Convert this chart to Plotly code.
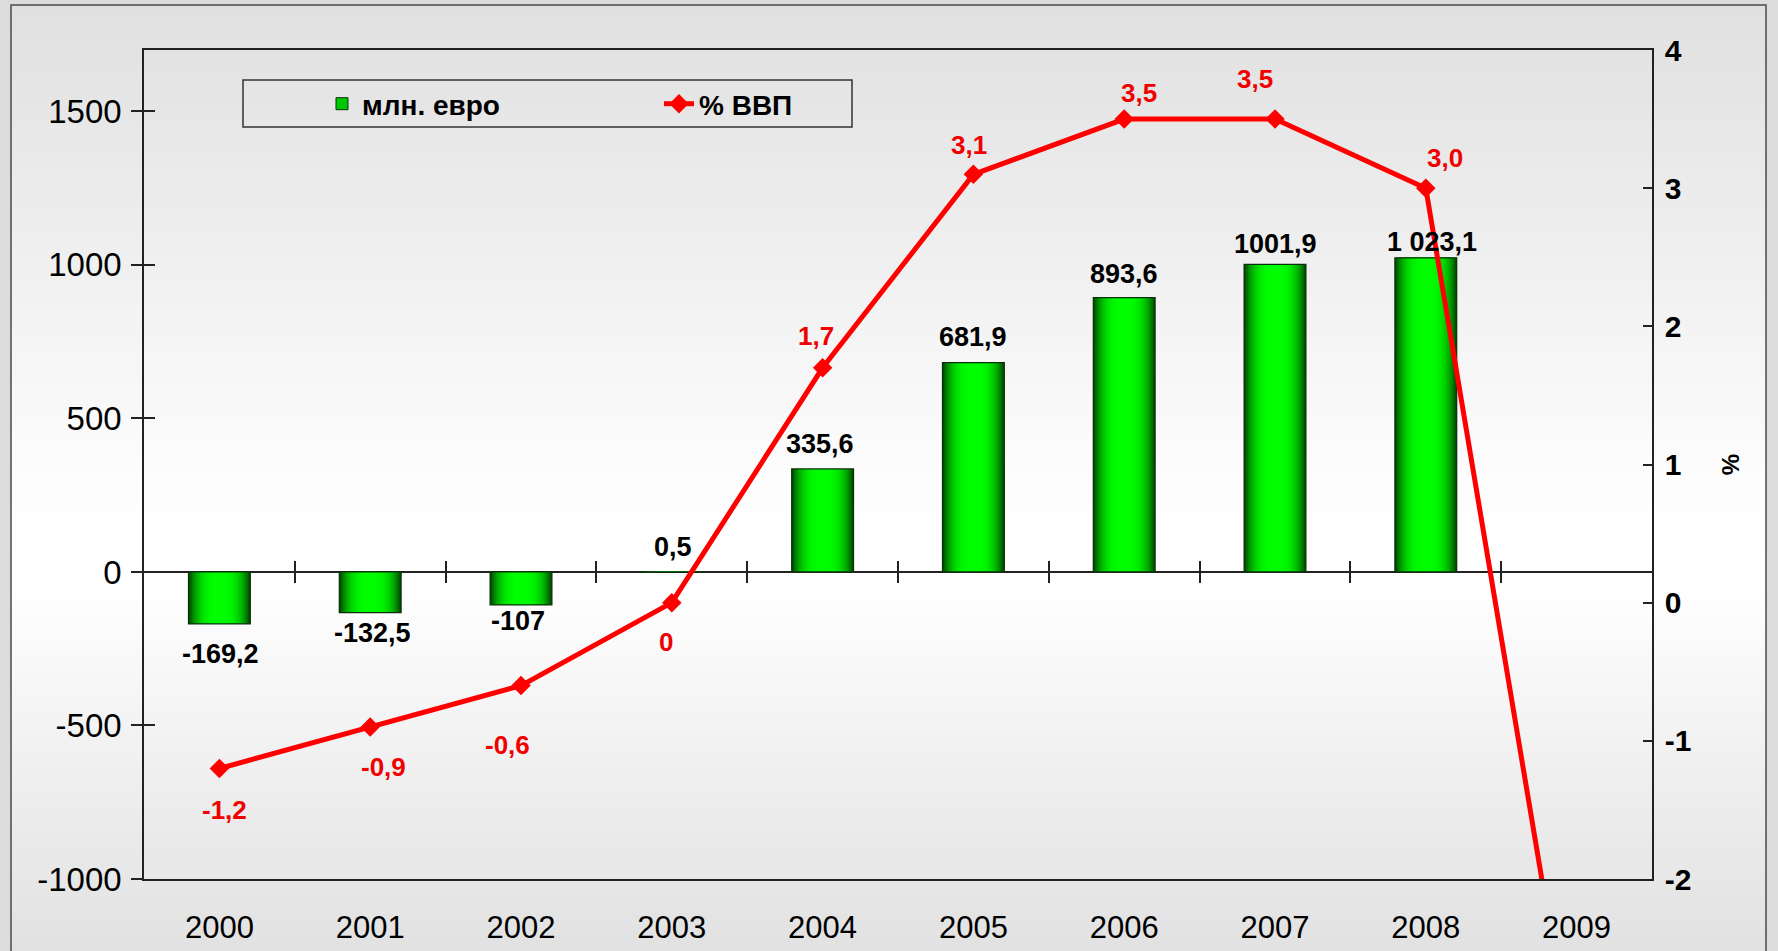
import plotly.graph_objects as go

# ---------------- data ----------------
years = ["2000", "2001", "2002", "2003", "2004", "2005", "2006", "2007", "2008", "2009"]
eur_mln = [-169.2, -132.5, -107, 0.5, 335.6, 681.9, 893.6, 1001.9, 1023.1, None]
eur_labels = ["-169,2", "-132,5", "-107", "0,5", "335,6", "681,9", "893,6", "1001,9", "1 023,1", ""]
gdp_pct = [-1.2, -0.9, -0.6, 0.0, 1.7, 3.1, 3.5, 3.5, 3.0, -3.5]
gdp_labels = ["-1,2", "-0,9", "-0,6", "0", "1,7", "3,1", "3,5", "3,5", "3,0", ""]
left_ticks = [-1000, -500, 0, 500, 1000, 1500]
right_ticks = [-2, -1, 0, 1, 2, 3, 4]
left_range = [-1000, 1700]
right_range = [-2, 4]

# ---------------- style / layout constants ----------------
W, H = 1778, 951
ML, MR, MT, MB = 144, 126, 50, 72
PW, PH = W - ML - MR, H - MT - MB
FONT = "Liberation Sans, Arial, sans-serif"
RED = "#f00000"
BAR_W = 0.41

# label offsets in screen px (dx right, dy down) - placement styling only
bar_lab_dy = [30, 20, 16, -25, -25, -26, -24, -20, -16, 0]
bar_lab_dx = [1, 2, -3, 1, -3, 0, 0, 0, 6, 0]
line_lab_dx = [5, 13, -14, -6, -7, -4, 15, -20, 19, 0]
line_lab_dy = [42, 40, 59, 39, -32, -29, -26, -40, -30, 0]


def px_x(p):
    return (p - ML) / PW


def px_y(p):
    return (H - MB - p) / PH


fig = go.Figure()

# legend-only bar entry
fig.add_trace(go.Bar(x=[None], y=[None], name="млн. евро",
                     marker=dict(color="#00c800", line=dict(color="#0a300a", width=1))))

# bars with simulated horizontal gradient (overlaid layers)
N = 16
for i in range(N):
    frac = 1 - i / N
    g = int(255 - 175 * frac ** 3)
    fig.add_trace(go.Bar(x=years, y=eur_mln, width=BAR_W * frac,
                         marker=dict(color=f"rgb(0,{g},0)", line=dict(width=0)),
                         showlegend=False, hoverinfo="skip", opacity=1))
# outline on top
fig.add_trace(go.Bar(x=years, y=eur_mln, width=BAR_W,
                     marker=dict(color="rgba(0,0,0,0)", line=dict(width=1.2, color="#0a300a")),
                     showlegend=False, hoverinfo="skip"))

# % GDP line
fig.add_trace(go.Scatter(x=years, y=gdp_pct, yaxis="y2", name="% ВВП", mode="lines+markers",
                         line=dict(color="#ff0000", width=5),
                         marker=dict(symbol="diamond", size=15, color="#ff0000")))

# helper traces for crossing tick marks
fig.add_trace(go.Scatter(x=[None], y=[None], xaxis="x2", yaxis="y", showlegend=False, hoverinfo="skip"))
fig.add_trace(go.Scatter(x=[None], y=[None], xaxis="x3", yaxis="y", showlegend=False, hoverinfo="skip"))
fig.add_trace(go.Scatter(x=[None], y=[None], xaxis="x", yaxis="y3", showlegend=False, hoverinfo="skip"))

# ---------------- annotations ----------------
for i, (yv, txt) in enumerate(zip(eur_mln, eur_labels)):
    if yv is None or not txt:
        continue
    fig.add_annotation(x=i, y=yv, xref="x", yref="y", text="<b>" + txt + "</b>", showarrow=False,
                       xanchor="center", yanchor="middle",
                       xshift=bar_lab_dx[i], yshift=-bar_lab_dy[i],
                       font=dict(family=FONT, size=27, color="black"))
for i, (yv, txt) in enumerate(zip(gdp_pct, gdp_labels)):
    if not txt:
        continue
    fig.add_annotation(x=i, y=yv, xref="x", yref="y2", text="<b>" + txt + "</b>", showarrow=False,
                       xanchor="center", yanchor="middle",
                       xshift=line_lab_dx[i], yshift=-line_lab_dy[i],
                       font=dict(family=FONT, size=26, color=RED))

# ---------------- background gradient & frame ----------------
shapes = []
stops = [(0, 223), (5, 224), (480, 253), (580, 255), (951, 225)]


def shade(p):
    for (y0, c0), (y1, c1) in zip(stops[:-1], stops[1:]):
        if y0 <= p <= y1:
            return c0 + (c1 - c0) * (p - y0) / (y1 - y0)
    return stops[-1][1]


frame_l, frame_r, frame_t, frame_b = 11, 1766, 5, 960
nb = 80
step = (frame_b - frame_t) / nb
for k in range(nb):
    y0 = frame_t + k * step
    y1 = y0 + step + 0.8
    c = int(round(shade(y0 + step / 2)))
    shapes.append(dict(type="rect", xref="paper", yref="paper", layer="below",
                       x0=px_x(frame_l), x1=px_x(frame_r), y0=px_y(y1), y1=px_y(y0),
                       fillcolor=f"rgb({c},{c},{c})", line=dict(width=0)))
shapes.append(dict(type="rect", xref="paper", yref="paper", layer="below",
                   x0=px_x(frame_l), x1=px_x(frame_r), y0=px_y(frame_b), y1=px_y(frame_t),
                   fillcolor="rgba(0,0,0,0)", line=dict(color="#4a4a4a", width=1.5)))
# legend box
shapes.append(dict(type="rect", xref="paper", yref="paper", layer="above",
                   x0=px_x(243), x1=px_x(852), y0=px_y(127), y1=px_y(80),
                   fillcolor="rgba(0,0,0,0)", line=dict(color="#333333", width=1.5)))

axis_col = "#222222"
fig.update_layout(
    width=W, height=H,
    margin=dict(l=ML, r=MR, t=MT, b=MB, pad=0, autoexpand=False),
    paper_bgcolor="#dcdcdc",
    plot_bgcolor="rgba(0,0,0,0)",
    barmode="overlay",
    font=dict(family=FONT, color="black"),
    showlegend=True,
    legend=dict(orientation="h", x=px_x(322), y=px_y(104), xanchor="left", yanchor="middle",
                bgcolor="rgba(0,0,0,0)", borderwidth=0, entrywidth=292,
                font=dict(family=FONT, size=28, color="black", weight="bold")),
    xaxis=dict(type="category", categoryorder="array", categoryarray=years, range=[-0.5, 9.5],
               showline=True, linecolor=axis_col, linewidth=1.5, mirror=True, automargin=False,
               ticks="", ticklabelstandoff=20, showgrid=False, zeroline=False,
               tickfont=dict(family=FONT, size=31, color="black")),
    xaxis2=dict(overlaying="x", anchor="free", side="bottom", automargin=False,
                position=(0 - left_range[0]) / (left_range[1] - left_range[0]),
                range=[-0.5, 9.5], tickvals=[i + 0.5 for i in range(len(years) - 1)],
                ticks="outside", ticklen=10, tickwidth=1.5, tickcolor=axis_col,
                showticklabels=False, showline=False, showgrid=False, zeroline=False),
    xaxis3=dict(overlaying="x", anchor="free", side="top", automargin=False,
                position=(0 - left_range[0]) / (left_range[1] - left_range[0]),
                range=[-0.5, 9.5], tickvals=[i + 0.5 for i in range(len(years) - 1)],
                ticks="outside", ticklen=11, tickwidth=1.5, tickcolor=axis_col,
                showticklabels=False, showline=False, showgrid=False, zeroline=False),
    yaxis=dict(range=left_range, tickvals=left_ticks, ticktext=[str(v) for v in left_ticks],
               ticks="outside", ticklen=11, tickwidth=1.5, automargin=False,
               tickcolor=axis_col, showline=True, linecolor=axis_col, linewidth=1.5,
               showgrid=False, zeroline=True, zerolinecolor=axis_col, zerolinewidth=1.5,
               ticklabelstandoff=3, tickfont=dict(family=FONT, size=33, color="black")),
    yaxis3=dict(overlaying="y", side="left", range=left_range, tickvals=left_ticks, automargin=False,
                ticks="inside", ticklen=11, tickwidth=1.5, tickcolor=axis_col,
                showticklabels=False, showline=False, showgrid=False, zeroline=False),
    yaxis2=dict(overlaying="y", side="right", range=right_range, tickvals=right_ticks,
                ticktext=[str(v) for v in right_ticks], automargin=False,
                ticks="inside", ticklen=9, tickwidth=1.5, tickcolor=axis_col,
                showline=True, linecolor=axis_col, linewidth=1.5, showgrid=False, zeroline=False,
                ticklabelstandoff=5,
                tickfont=dict(family=FONT, size=30, color="black", weight="bold"),
                title=dict(text="%", standoff=32,
                           font=dict(family=FONT, size=24, color="black", weight="bold"))),
    shapes=shapes,
)

fig.write_html("out.html", config={"displayModeBar": False},
               post_script="document.body.style.margin='0';document.body.style.overflow='hidden';")
